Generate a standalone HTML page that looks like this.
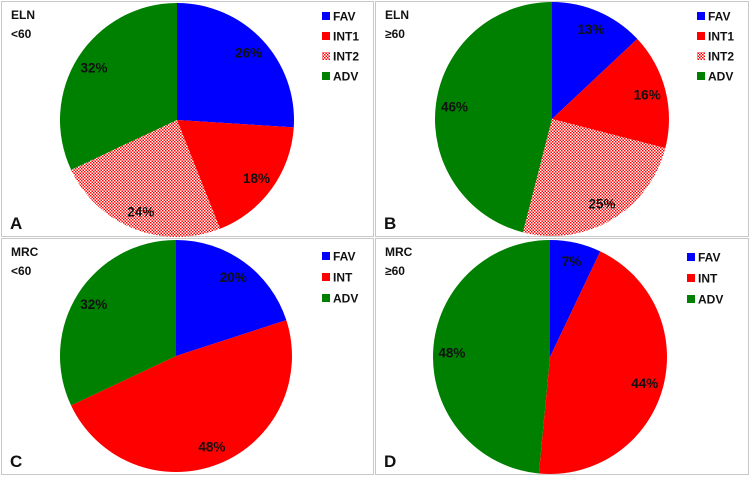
<!DOCTYPE html>
<html><head><meta charset="utf-8"><style>
body{margin:0;background:#fff;font-family:"Liberation Sans",Arial,sans-serif}
svg text{font-family:"Liberation Sans",Arial,sans-serif;font-weight:bold}
</style></head><body>
<svg id="c" width="750" height="475" xmlns="http://www.w3.org/2000/svg">
<defs><pattern id="chk" width="3" height="3" patternUnits="userSpaceOnUse"><rect width="3" height="3" fill="#fff"/><rect width="1.5" height="1.5" fill="#f00"/><rect x="1.5" y="1.5" width="1.5" height="1.5" fill="#f00"/></pattern></defs>
</svg>
<script>
const panelNames=["A","B","C","D"];
const panelTitles=[["ELN","<60"],["ELN","≥60"],["MRC","<60"],["MRC","≥60"]];
const catsA=["FAV","INT1","INT2","ADV"];
const valsA=[26,18,24,32];
const catsB=["FAV","INT1","INT2","ADV"];
const valsB=[13,16,25,46];
const catsC=["FAV","INT","ADV"];
const valsC=[20,48,32];
const catsD=["FAV","INT","ADV"];
const valsD=[7,44,48];
const colorMap={FAV:"#0000ff",INT1:"#ff0000",INT:"#ff0000",INT2:"url(#chk)",ADV:"#008000"};
const svg=document.getElementById('c');
const NS="http://www.w3.org/2000/svg";
function mk(t,a,p){const e=document.createElementNS(NS,t);for(const k in a)e.setAttribute(k,a[k]);(p||svg).appendChild(e);return e;}
const layout=[
 {x:1,y:1,w:372,h:235,cx:177,cy:120,r:117,lx:322,ly:16},
 {x:375,y:1,w:373,h:235,cx:552,cy:119,r:117,lx:697,ly:16},
 {x:1,y:238,w:372,h:236,cx:176,cy:356,r:116,lx:322,ly:256},
 {x:375,y:238,w:373,h:236,cx:550,cy:357,r:117,lx:687,ly:257}];
const allCats=[catsA,catsB,catsC,catsD], allVals=[valsA,valsB,valsC,valsD];
layout.forEach((L,i)=>{
 const g=mk('g',{});
 
 
 const b=mk('rect',{x:L.x+0.5,y:L.y+0.5,width:L.w,height:L.h,fill:'none',stroke:'#c8c8c8'},g);
 
 
 const cats=allCats[i],vals=allVals[i];
 const tot=vals.reduce((a,b)=>a+b,0);
 let a0=0;
 vals.forEach((v,j)=>{
  const a1=a0+v/tot*2*Math.PI;
  const p=(a)=>[L.cx+L.r*Math.sin(a),L.cy-L.r*Math.cos(a)];
  const [x0,y0]=p(a0),[x1,y1]=p(a1);
  const s=mk('path',{d:`M${L.cx},${L.cy}L${x0},${y0}A${L.r},${L.r} 0 ${a1-a0>Math.PI?1:0} 1 ${x1},${y1}Z`,fill:colorMap[cats[j]]},g);
  
  
  const am=(a0+a1)/2,rr=L.r*0.84;
  const t=mk('text',{x:L.cx+rr*Math.sin(am),y:L.cy-rr*Math.cos(am)+5,'text-anchor':'middle','font-size':13.5,fill:'#111'},g);
  t.textContent=v+'%';
  
  
  const ly=L.ly+j*(cats.length===4?20:21);
  const sq=mk('rect',{x:L.lx,y:ly-4,width:8,height:8,fill:colorMap[cats[j]]},g);
  
  
  const lt=mk('text',{x:L.lx+11,y:ly+4.5,'font-size':12,fill:'#111'},g);
  lt.textContent=cats[j];
  
  
  a0=a1;
 });
 const tt=mk('text',{x:L.x+10,y:L.y+18,'font-size':12,fill:'#111'},g);
 tt.textContent=panelTitles[i][0];
 
 
 const t2=mk('text',{x:L.x+10,y:L.y+37,'font-size':12,fill:'#111'},g);
 t2.textContent=panelTitles[i][1];
 
 
 const pl=mk('text',{x:L.x+9,y:L.y+L.h-7,'font-size':17,fill:'#111'},g);
 pl.textContent=panelNames[i];
 
 
});
</script>
</body></html>
